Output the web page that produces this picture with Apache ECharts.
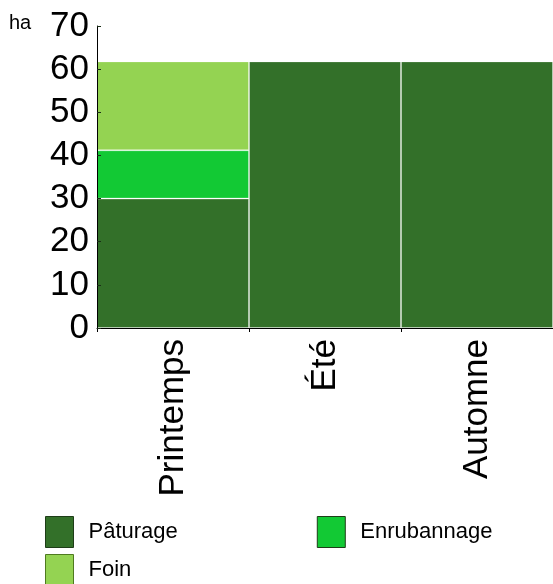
<!DOCTYPE html>
<html>
<head>
<meta charset="utf-8">
<script src="https://cdn.jsdelivr.net/npm/echarts@6/dist/echarts.min.js"></script>
<style>
  html, body { margin: 0; padding: 0; background: #fff; }
  #main { width: 553px; height: 584px; }
</style>
</head>
<body>
<div id="main"></div>
<script>
var saisons = ['Printemps', 'Été', 'Automne'];
var paturage = [30, 61.8, 61.8];
var enrubannage = [11.2, 0, 0];
var foin = [20.6, 0, 0];
var yTicks = [0, 10, 20, 30, 40, 50, 60, 70];

var chartDom = document.getElementById('main');
var myChart = echarts.init(chartDom);

var font = 'Liberation Sans, Arial, sans-serif';
var border = { borderColor: 'rgba(255,255,255,0.28)', borderWidth: 1 };

function serie(name, data, color) {
  return {
    name: name,
    type: 'bar',
    stack: 'total',
    barWidth: '100%',
    data: data,
    itemStyle: Object.assign({ color: color }, border)
  };
}

var legendText = { fontFamily: font, fontSize: 22, color: '#000', padding: [0, 0, 0, 10] };

var option = {
  animation: false,
  grid: { left: 97, right: 0, top: 26, bottom: 256 },
  legend: [
    {
      data: ['Pâturage', 'Enrubannage'],
      left: 45, top: 516, padding: 0,
      itemWidth: 28, itemHeight: 31,
      itemGap: 139,
      icon: 'rect',
      itemStyle: { borderColor: '#1e3d18', borderWidth: 1 },
      textStyle: legendText
    },
    {
      data: ['Foin'],
      left: 45, top: 554, padding: 0,
      itemWidth: 28, itemHeight: 31,
      icon: 'rect',
      itemStyle: { borderColor: '#4f7a20', borderWidth: 1 },
      textStyle: legendText
    }
  ],
  graphic: [
    { type: 'text', left: 9, top: 13, style: { text: 'ha', font: '20px ' + font, fill: '#000' } }
  ],
  xAxis: {
    type: 'category',
    data: saisons,
    axisLine: { lineStyle: { color: '#000', width: 1 } },
    axisTick: { show: true, length: 4, lineStyle: { color: '#000' } },
    axisLabel: {
      rotate: 90,
      margin: 11,
      fontFamily: font,
      fontSize: 35,
      color: '#000'
    }
  },
  yAxis: {
    type: 'value',
    zlevel: 1,
    min: yTicks[0],
    max: yTicks[yTicks.length - 1],
    interval: 10,
    splitLine: { show: false },
    axisLine: { show: true, lineStyle: { color: '#000', width: 1 } },
    axisTick: { show: true, inside: true, length: 4, lineStyle: { color: '#1a2e16' } },
    axisLabel: { fontFamily: font, fontSize: 35, color: '#000', margin: 8 }
  },
  series: [
    serie('Pâturage', paturage, '#337029'),
    serie('Enrubannage', enrubannage, '#12c934'),
    serie('Foin', foin, '#94d352')
  ]
};

myChart.setOption(option);
</script>
</body>
</html>
